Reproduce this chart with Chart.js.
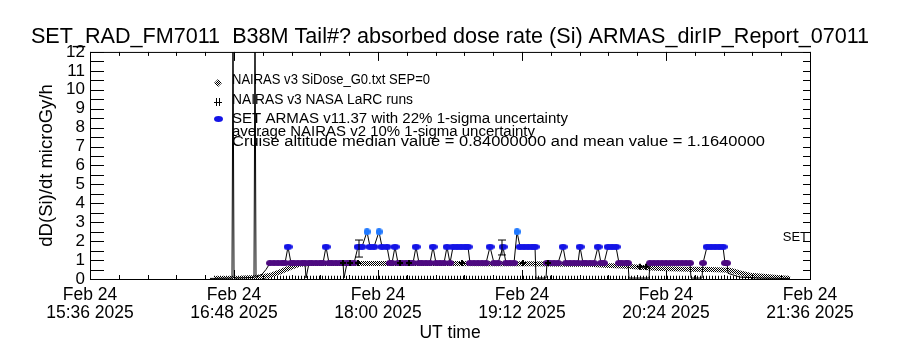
<!DOCTYPE html>
<html>
<head>
<meta charset="utf-8">
<script src="https://cdn.jsdelivr.net/npm/chart.js"></script>
<style>
  body { margin: 0; background: #fff; }
  #wrap { width: 900px; height: 350px; position: relative; }
</style>
</head>
<body>
<div id="wrap"><canvas id="doseChart"></canvas></div>
<script>
// x values are minutes after Feb 24 2025 15:36 UT
const xTickLabels = [
    ['Feb 24', '15:36 2025'], ['Feb 24', '16:48 2025'], ['Feb 24', '18:00 2025'],
    ['Feb 24', '19:12 2025'], ['Feb 24', '20:24 2025'], ['Feb 24', '21:36 2025']
];

// NAIRAS v3 SiDose_G0 model curve
const nairasTime = [62, 75, 82, 86, 91, 95, 100, 105, 110, 120, 140, 160, 180, 200, 220, 240, 250, 257, 268, 275, 285, 300, 310, 320, 325, 330, 338, 345, 350];
const nairasDose = [0.02, 0.04, 0.08, 0.12, 0.22, 0.38, 0.6, 0.78, 0.82, 0.82, 0.82, 0.82, 0.82, 0.8, 0.8, 0.78, 0.78, 0.72, 0.68, 0.62, 0.56, 0.52, 0.5, 0.46, 0.32, 0.2, 0.13, 0.07, 0.03];

// NAIRAS v3 NASA LaRC runs
const larcTime = [126.5, 130, 134, 155, 159.5, 186, 216.5, 229, 275, 278];
const larcDose = [0.84, 0.84, 0.84, 0.84, 0.84, 0.84, 0.84, 0.84, 0.65, 0.65];

// baseline of the model runs along the floor
const baseTime = [62, 350];
const baseDose = [0.06, 0.06];

// SET ARMAS measured dose rate
const armasTime = [
    60, 71, 71.5, 72, 82, 82.5, 83, 86, 88, 90,
    92, 94, 96, 97.5, 99, 100.5, 102, 104, 106, 107.5,
    108, 109.5, 111, 113, 115, 116.5, 118, 119.5, 121, 123,
    125, 126.5, 127, 128.5, 130, 132, 134, 136, 138.5, 140,
    142, 144.5, 146, 148.5, 150, 151, 152.5, 154, 156, 158,
    160, 161.5, 163, 164.5, 166, 168, 170, 171.5, 173, 175,
    177, 178.5, 180, 181.5, 183.5, 185.5, 187.5, 189, 190, 192,
    194, 196, 198, 200, 202, 204, 206.5, 208, 210, 212,
    213.5, 215, 217, 219, 221, 222.5, 223, 228, 228.5, 230,
    232, 234, 236.5, 238, 240, 242, 244, 245, 246.5, 248,
    250, 252, 254, 255.5, 257, 259, 261, 263, 264.5, 266,
    268, 269, 269.5, 279.5, 280, 282, 284, 286, 288, 290,
    292, 294, 296, 298, 300, 300.5, 306, 306.5, 308.5, 310.5,
    312.5, 314.5, 316.5, 317.5, 318.5, 319, 325, 335, 350
];
const armasDose = [
    0.03, 0.05, 14, 0.05, 0.08, 14, 0.1, 0.25, 0.5, 0.84,
    0.84, 0.84, 0.84, 0.84, 1.7, 0.84, 0.84, 0.84, 0.84, 0.84,
    0.05, 0.84, 0.84, 0.84, 0.84, 0.84, 1.7, 0.84, 0.84, 0.84,
    0.84, 0.84, 0.05, 0.84, 0.84, 0.84, 1.7, 1.7, 2.5, 1.7,
    1.7, 2.5, 1.7, 1.7, 0.84, 0.84, 1.7, 0.84, 0.84, 0.84,
    0.84, 0.84, 1.7, 0.84, 0.84, 0.84, 0.84, 1.7, 0.84, 0.84,
    0.84, 1.7, 0.84, 1.7, 1.7, 1.7, 1.7, 1.7, 0.84, 0.84,
    0.84, 0.84, 0.84, 1.7, 0.84, 0.84, 1.7, 0.84, 0.84, 0.84,
    2.5, 1.7, 1.7, 1.7, 1.7, 1.7, 0.05, 0.05, 0.84, 0.84,
    0.84, 0.84, 1.7, 0.84, 0.84, 0.84, 0.84, 1.7, 0.84, 0.84,
    0.84, 0.84, 1.7, 0.84, 0.84, 1.7, 1.7, 1.7, 0.84, 0.84,
    0.84, 0.84, 0.05, 0.05, 0.84, 0.84, 0.84, 0.84, 0.84, 0.84,
    0.84, 0.84, 0.84, 0.84, 0.84, 0.05, 0.05, 0.84, 1.7, 1.7,
    1.7, 1.7, 1.7, 0.84, 0.84, 0.3, 0.1, 0.05, 0.03
];

// 22% 1-sigma error bars
const errTime = [134.5, 206];
const errLow = [1.16, 1.27];
const errHigh = [2.06, 2.06];

const legendLines = [
    'NAIRAS v3 SiDose_G0.txt SEP=0',
    'NAIRAS v3 NASA LaRC runs',
    'SET ARMAS v11.37 with 22% 1-sigma uncertainty',
    'average NAIRAS v2 10% 1-sigma uncertainty',
    'Cruise altitude median value = 0.84000000 and mean value = 1.1640000'
];

const FONT = "'Liberation Sans', Arial, sans-serif";
const PURPLE = '#4d0a80';
const BLUE = '#1414e6';
const LIGHT_BLUE = '#1e78ff';

// small ellipse markers
function makeDot(color, w, h) {
    const c = document.createElement('canvas');
    c.width = w; c.height = h;
    const g = c.getContext('2d');
    g.fillStyle = color;
    g.beginPath();
    g.ellipse(w / 2, h / 2, w / 2, h / 2, 0, 0, Math.PI * 2);
    g.fill();
    return c;
}
const purpleDot = makeDot(PURPLE, 8, 6);
const blueDot = makeDot(BLUE, 9, 6);
const lightBlueDot = makeDot(LIGHT_BLUE, 7, 7);

// black/white dither used for the model curve
const ditherCanvas = document.createElement('canvas');
ditherCanvas.width = 2; ditherCanvas.height = 2;
const dg = ditherCanvas.getContext('2d');
dg.fillStyle = '#fff'; dg.fillRect(0, 0, 2, 2);
dg.fillStyle = '#000'; dg.fillRect(0, 0, 1, 1); dg.fillRect(1, 1, 1, 1);
const dither = dg.createPattern(ditherCanvas, 'repeat');

const toXY = (ts, vs) => ts.map((t, i) => ({ x: t, y: vs[i] }));

function armasStyle(v) {
    if (v > 5 || v < 0.6) return null;
    if (v >= 2.2) return lightBlueDot;
    if (v >= 1.3) return blueDot;
    return purpleDot;
}

const errorSets = errTime.map((t, i) => ({
    label: 'error' + i,
    data: [{ x: t, y: errLow[i] }, { x: t, y: errHigh[i] }],
    showLine: true,
    borderColor: '#000',
    borderWidth: 1,
    pointStyle: 'line',
    pointRadius: 4,
    pointBorderColor: '#000',
    pointBorderWidth: 1
}));

const idlFrame = {
    id: 'idlFrame',
    afterDraw(chart) {
        const { ctx, chartArea: a, scales: { x, y } } = chart;
        ctx.save();
        ctx.strokeStyle = '#000';
        ctx.lineWidth = 1;
        ctx.strokeRect(a.left + 0.5, a.top + 0.5, a.right - a.left, a.bottom - a.top);
        ctx.beginPath();
        for (let i = 0; i <= 24; i++) {
            const py = Math.round(y.getPixelForValue(i / 2)) + 0.5;
            ctx.moveTo(a.left, py); ctx.lineTo(a.left + 14, py);
            ctx.moveTo(a.right, py); ctx.lineTo(a.right - 7, py);
        }
        for (let i = 0; i <= 25; i++) {
            const px = Math.round(x.getPixelForValue(i * 14.4)) + 0.5;
            const len = i % 5 === 0 ? 9 : 4;
            ctx.moveTo(px, a.bottom); ctx.lineTo(px, a.bottom - len);
            ctx.moveTo(px, a.top); ctx.lineTo(px, a.top + len);
        }
        ctx.stroke();

        // legend block, each line stretched to the width it has in the IDL plot
        ctx.fillStyle = '#000';
        ctx.font = '14px ' + FONT;
        ctx.textBaseline = 'middle';
        ctx.textAlign = 'left';
        const ly = [80, 100, 119, 132, 142];
        const lineEnd = [430, 413, 568, 535, 765];
        legendLines.forEach((s, i) => {
            const w = ctx.measureText(s).width;
            ctx.save();
            ctx.translate(232, ly[i]);
            ctx.scale((lineEnd[i] - 232) / w, 1);
            ctx.fillText(s, 0, 0);
            ctx.restore();
        });
        // symbols
        ctx.fillStyle = dither;
        ctx.beginPath();
        ctx.moveTo(218, 79); ctx.lineTo(222, 83); ctx.lineTo(218, 87); ctx.lineTo(214, 83);
        ctx.closePath(); ctx.fill();
        ctx.beginPath();
        ctx.moveTo(216.5, 98); ctx.lineTo(216.5, 106);
        ctx.moveTo(219.5, 98); ctx.lineTo(219.5, 106);
        ctx.moveTo(214, 102.5); ctx.lineTo(222, 102.5);
        ctx.stroke();
        ctx.drawImage(blueDot, 214, 116);

        ctx.fillStyle = '#000';
        ctx.font = '13px ' + FONT;
        ctx.textAlign = 'right';
        ctx.fillText('SET', 808, 237);
        ctx.restore();
    }
};

new Chart(document.getElementById('doseChart'), {
    type: 'scatter',
    data: {
        datasets: [
            ...errorSets,
            {
                label: 'NAIRAS v3 NASA LaRC runs',
                data: toXY(larcTime, larcDose),
                pointStyle: 'cross',
                pointRadius: 3,
                pointBorderColor: '#000',
                pointBorderWidth: 2
            },
            {
                label: 'SET ARMAS v11.37',
                data: toXY(armasTime, armasDose),
                showLine: true,
                borderColor: '#000',
                borderWidth: 1,
                pointStyle: ctx => armasStyle(ctx.raw.y) || 'circle',
                pointRadius: ctx => armasStyle(ctx.raw.y) ? 4 : 0
            },
            {
                label: 'NAIRAS v3 SiDose_G0.txt SEP=0',
                data: toXY(nairasTime, nairasDose),
                showLine: true,
                borderColor: dither,
                borderWidth: 5,
                pointRadius: 0
            },
            {
                label: 'baseline',
                data: toXY(baseTime, baseDose),
                showLine: true,
                borderColor: '#000',
                borderWidth: 4,
                borderDash: [1, 2],
                pointRadius: 0
            }
        ]
    },
    options: {
        responsive: true,
        maintainAspectRatio: false,
        animation: false,
        events: [],
        layout: { padding: 0 },
        plugins: {
            legend: { display: false },
            tooltip: { enabled: false },
            title: {
                display: true,
                text: 'SET_RAD_FM7011  B38M Tail#? absorbed dose rate (Si) ARMAS_dirIP_Report_07011',
                color: '#000',
                font: { family: FONT, size: 21.6, weight: 'normal', lineHeight: 1.2 },
                padding: { top: 24, bottom: 2 }
            }
        },
        scales: {
            x: {
                type: 'linear',
                min: 0,
                max: 360,
                afterFit: s => { s.height = 71; },
                grid: { display: false, drawTicks: false },
                border: { display: false },
                ticks: {
                    stepSize: 72,
                    autoSkip: false,
                    maxRotation: 0,
                    padding: 7,
                    color: '#000',
                    font: { family: FONT, size: 17.5, lineHeight: 1.05 },
                    callback: (v, i) => xTickLabels[i]
                },
                title: {
                    display: true,
                    text: 'UT time',
                    color: '#000',
                    font: { family: FONT, size: 17.5 },
                    padding: { top: 0, bottom: 6 }
                }
            },
            y: {
                min: 0,
                max: 12,
                afterFit: s => { s.width = 90; },
                grid: { display: false, drawTicks: false },
                border: { display: false },
                ticks: {
                    stepSize: 1,
                    autoSkip: false,
                    padding: 5,
                    color: '#000',
                    font: { family: FONT, size: 17 }
                },
                title: {
                    display: true,
                    text: 'dD(Si)/dt microGy/h',
                    color: '#000',
                    font: { family: FONT, size: 18.5 },
                    padding: { top: 36, bottom: 0 }
                }
            },
            yRight: {
                position: 'right',
                min: 0,
                max: 12,
                afterFit: s => { s.width = 90; },
                grid: { display: false, drawTicks: false },
                border: { display: false },
                ticks: { display: false }
            }
        }
    },
    plugins: [idlFrame]
});
</script>
</body>
</html>
